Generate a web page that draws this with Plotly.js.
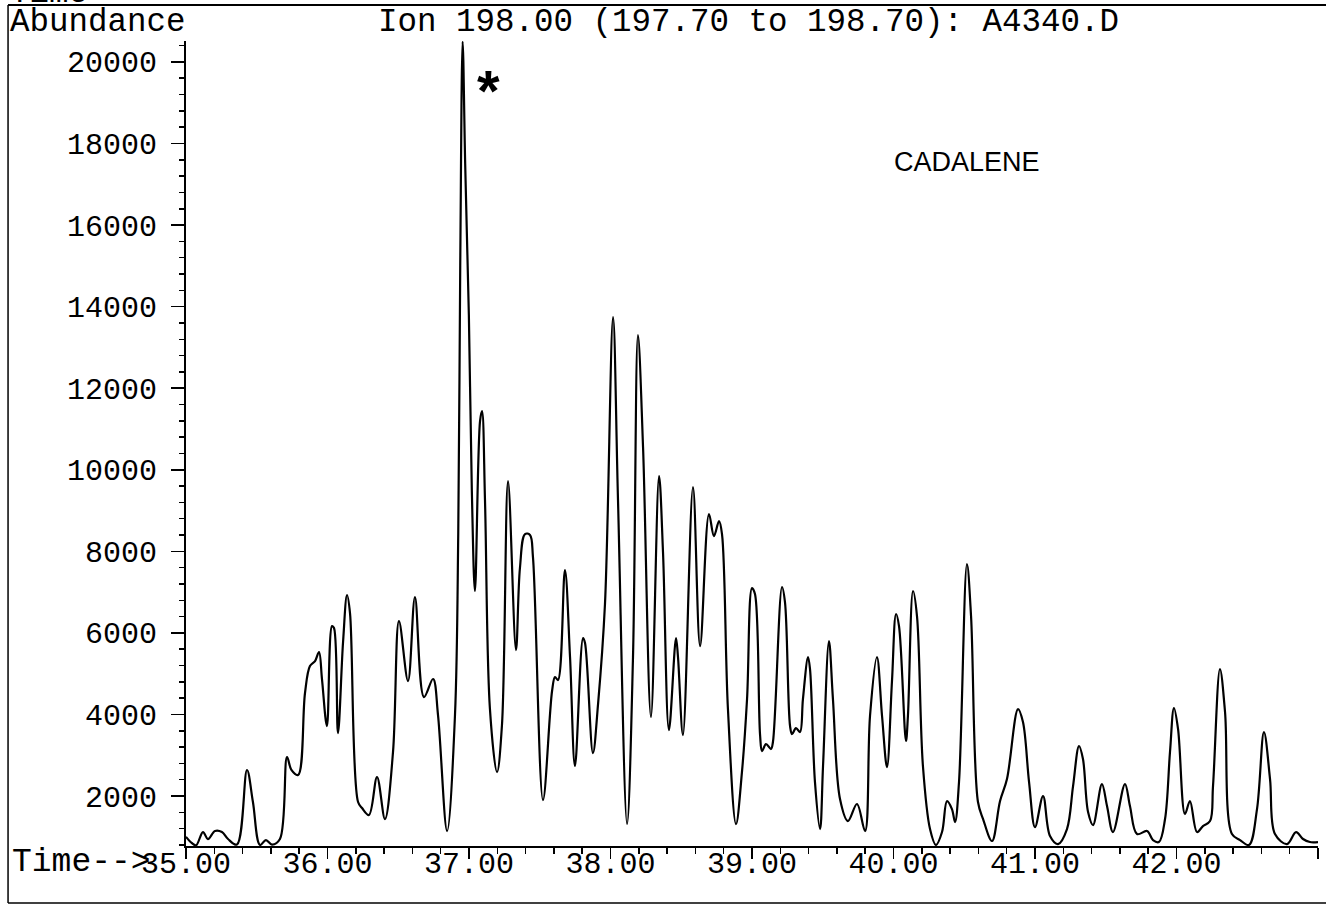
<!DOCTYPE html>
<html>
<head>
<meta charset="utf-8">
<script src="https://cdn.plot.ly/plotly-3.0.1.min.js"></script>
<style>
html,body{margin:0;padding:0;background:#fff;}
#chart{width:1326px;height:906px;}
</style>
</head>
<body>
<div id="chart"></div>
<script>
// Retention time (min)
const time = [
35.000,35.040,35.071,35.120,35.155,35.205,35.254,35.297,35.360,35.431,35.473,35.523,35.565,35.608,35.664,
35.714,35.745,35.792,35.841,35.876,35.912,35.940,35.961,35.996,36.032,36.046,36.074,36.110,36.138,36.159,
36.216,36.244,36.293,36.350,36.406,36.463,36.505,36.569,36.618,36.682,36.746,36.781,36.845,36.901,36.924,
36.938,36.955,36.973,36.999,37.020,37.042,37.078,37.092,37.113,37.148,37.198,37.233,37.276,37.332,37.360,
37.396,37.431,37.452,37.523,37.587,37.608,37.629,37.678,37.714,37.749,37.806,37.820,37.876,37.912,37.961,
38.018,38.053,38.117,38.159,38.194,38.230,38.286,38.343,38.371,38.413,38.463,38.477,38.512,38.583,38.633,
38.696,38.731,38.767,38.788,38.830,38.887,38.929,38.965,39.000,39.021,39.057,39.071,39.099,39.134,39.148,
39.212,39.233,39.269,39.283,39.311,39.339,39.360,39.396,39.410,39.445,39.481,39.502,39.544,39.572,39.622,
39.678,39.742,39.799,39.834,39.883,39.919,39.954,39.989,40.018,40.039,40.088,40.102,40.138,40.166,40.208,
40.258,40.300,40.343,40.378,40.413,40.435,40.463,40.519,40.548,40.597,40.633,40.696,40.753,40.802,40.880,
40.915,40.958,41.000,41.057,41.106,41.163,41.226,41.269,41.311,41.339,41.375,41.410,41.473,41.509,41.551,
41.636,41.671,41.721,41.792,41.834,41.876,41.919,41.954,41.982,42.011,42.060,42.095,42.145,42.187,42.237,
42.258,42.307,42.343,42.392,42.449,42.512,42.569,42.618,42.661,42.696,42.781,42.845,42.894,42.943,43.000
];
// Abundance of ion 198.00
const abundance = [
1000,850,790,1117,946,1142,1117,946,810,2638,1853,800,921,810,946,
2956,2640,2515,4526,5188,5310,5531,4869,3716,6168,6119,3545,5776,6929,6487,
1853,1706,1534,2466,1436,3079,6291,4820,6879,4427,4869,3986,1142,3986,8450,
15000,20500,17500,13800,9500,7027,11195,11440,9258,4133,2588,3741,9724,5580,7591,
8424,8400,7860,1902,4575,4918,4844,7541,5408,2736,5874,5752,3054,4256,6708,
13745,9258,1313,5408,13304,10557,3937,9846,7983,3618,5874,5408,3496,9577,5678,
8915,8375,8743,8424,4133,1313,2588,4378,7100,6953,3496,3103,3275,3152,3324,
7125,6757,3716,3520,3667,3569,4378,5408,5114,2343,1191,2736,5801,4378,1926,
1387,1804,1142,3962,5408,3962,2711,4795,6463,6168,3349,3962,7027,6414,2736,
1191,800,1117,1877,1681,1362,2343,7689,6414,1853,1436,897,1877,2417,4133,
3814,2343,1240,2000,1019,823,1191,2245,3226,2907,1608,1289,2294,1755,1117,
2294,1755,1068,1142,921,872,1436,3079,4158,3643,1559,1877,1117,1264,1387,
2245,5114,4060,1068,921,800,1681,3569,2417,1068,823,1117,946,872,872
];
const xTickVals = [35,36,37,38,39,40,41,42,43];
const xTickText = ["35.00","36.00","37.00","38.00","39.00","40.00","41.00","42.00",""];
const yTickVals = [2000,4000,6000,8000,10000,12000,14000,16000,18000,20000];
const yTickText = ["2000","4000","6000","8000","10000","12000","14000","16000","18000","20000"];
const titleText = "Ion 198.00 (197.70 to 198.70): A4340.D";
const yLabel = "Abundance";
const xLabel = "Time-->";
const topLabel = "Time";
const compoundLabel = "CADALENE";
const peakMark = "*";

const mono = "Liberation Mono, Courier New, monospace";
const tickFont = {family: mono, size: 30, color: "#000"};
const headFont = {family: mono, size: 32.5, color: "#000"};
const sans = "Liberation Sans, Arial, sans-serif";

const trace = {
  x: time, y: abundance, type: "scatter", mode: "lines",
  line: {color: "#000", width: 2.2, shape: "spline", smoothing: 1.0},
  hoverinfo: "skip"
};

const layout = {
  width: 1326, height: 906,
  margin: {l: 186, r: 8, t: 41, b: 60, pad: 0},
  paper_bgcolor: "#fff", plot_bgcolor: "#fff",
  showlegend: false,
  xaxis: {
    range: [35, 43], tickmode: "array", tickvals: xTickVals, ticktext: xTickText,
    ticks: "outside", ticklen: 11, tickwidth: 1.5, tickcolor: "#000",
    showline: true, linecolor: "#000", linewidth: 2,
    showgrid: false, zeroline: false, tickfont: tickFont, ticklabelstandoff: -22,
    minor: {tickmode: "linear", tick0: 35, dtick: 0.2, ticks: "outside", ticklen: 6, tickwidth: 1.5, tickcolor: "#000", showgrid: false},
    fixedrange: true
  },
  yaxis: {
    range: [775, 20513], tickmode: "array", tickvals: yTickVals, ticktext: yTickText,
    ticks: "outside", ticklen: 13, tickwidth: 1.5, tickcolor: "#000",
    showline: true, linecolor: "#000", linewidth: 2,
    showgrid: false, zeroline: false, tickfont: tickFont, ticklabelstandoff: 8,
    minor: {tickmode: "linear", tick0: 0, dtick: 400, ticks: "outside", ticklen: 5, tickwidth: 1.5, tickcolor: "#000", showgrid: false},
    fixedrange: true
  },
  annotations: [
    {text: topLabel, xref: "paper", yref: "paper", x: -0.1572, y: 1.0584, xanchor: "left", yanchor: "middle", showarrow: false, font: headFont},
    {text: yLabel, xref: "paper", yref: "paper", x: -0.1572, y: 1.0224, xanchor: "left", yanchor: "middle", showarrow: false, font: headFont},
    {text: titleText, xref: "paper", yref: "paper", x: 0.4965, y: 1.0224, xanchor: "center", yanchor: "middle", showarrow: false, font: headFont},
    {text: xLabel, xref: "paper", yref: "paper", x: -0.1555, y: -0.0199, xanchor: "left", yanchor: "middle", showarrow: false, font: {family: mono, size: 33, color: "#000"}},
    {text: peakMark, xref: "paper", yref: "paper", x: 0.2668, y: 0.938, xanchor: "center", yanchor: "middle", showarrow: false, font: {family: sans, size: 58, color: "#000", weight: "bold"}},
    {text: compoundLabel, xref: "paper", yref: "paper", x: 0.6899, y: 0.8497, xanchor: "center", yanchor: "middle", showarrow: false, font: {family: sans, size: 27, color: "#000"}}
  ],
  shapes: [
    {type: "line", xref: "paper", yref: "paper", x0: -0.1572, x1: 1.0071, y0: 1.0447, y1: 1.0447, line: {color: "#000", width: 2}},
    {type: "line", xref: "paper", yref: "paper", x0: -0.1572, x1: -0.1572, y0: 1.0447, y1: -0.0708, line: {color: "#000", width: 1.5}},
    {type: "line", xref: "paper", yref: "paper", x0: -0.1572, x1: 1.0071, y0: -0.0708, y1: -0.0708, line: {color: "#000", width: 1.5}}
  ]
};

Plotly.newPlot("chart", [trace], layout, {staticPlot: true, displayModeBar: false});
</script>
</body>
</html>
